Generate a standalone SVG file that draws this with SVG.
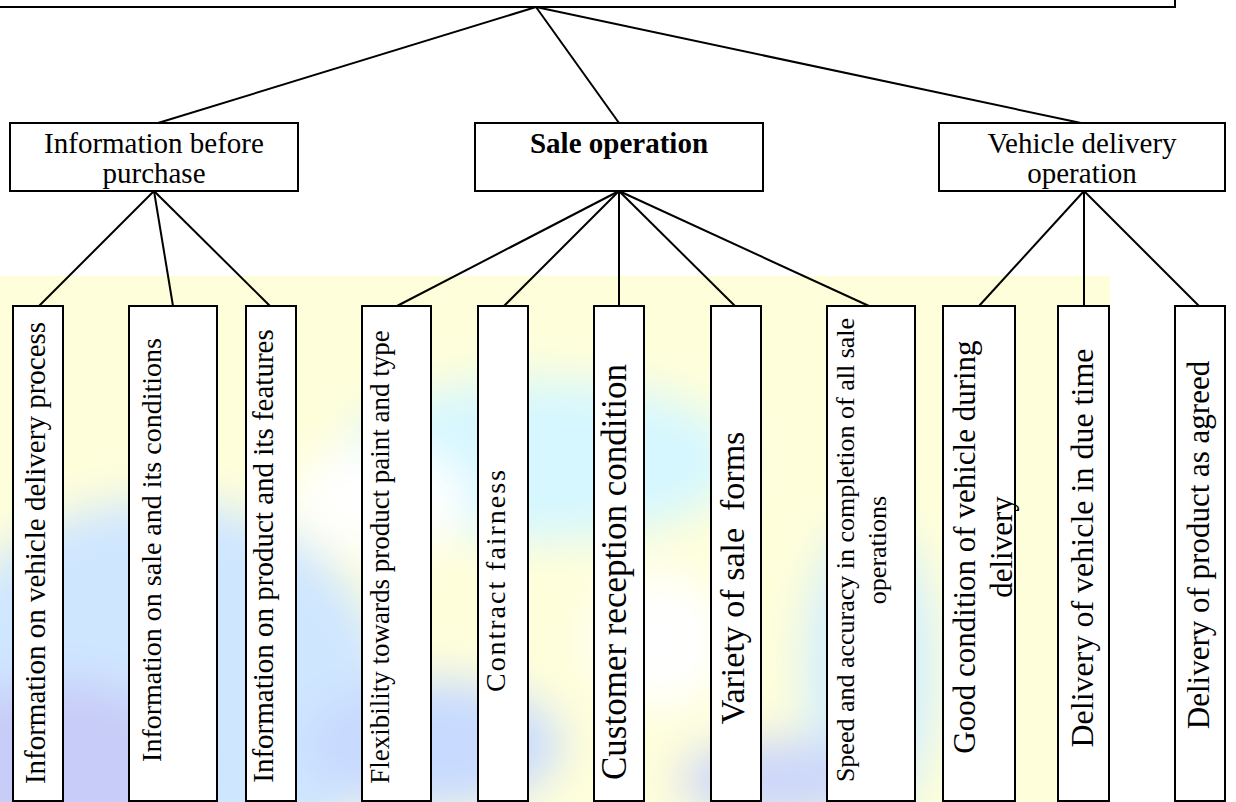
<svg xmlns="http://www.w3.org/2000/svg" width="1236" height="802" viewBox="0 0 1236 802">
<defs>
<style>
.box{fill:#fff;stroke:#000;stroke-width:2}
.ln{stroke:#000;stroke-width:2;fill:none}
.t2{font-family:"Liberation Serif","Times New Roman",serif;font-size:29px;text-anchor:middle;fill:#000}
.lf{font-family:"Liberation Serif","Times New Roman",serif;text-anchor:middle;fill:#000}
</style>
<filter id="blur" x="-20%" y="-20%" width="140%" height="140%"><feGaussianBlur stdDeviation="22"/></filter>
<clipPath id="bgclip"><rect x="0" y="276" width="1110" height="526"/></clipPath>
</defs>
<rect width="1236" height="802" fill="#fff"/>
<g id="background" clip-path="url(#bgclip)">
<rect x="0" y="276" width="1110" height="526" fill="#FEFEDA"/>
<g filter="url(#blur)">
<ellipse cx="160" cy="700" rx="230" ry="200" fill="#CFE6FF"/>
<ellipse cx="60" cy="770" rx="130" ry="90" fill="#C8CCF8"/>
<ellipse cx="540" cy="460" rx="200" ry="80" fill="#D6F7FF"/>
<ellipse cx="380" cy="500" rx="90" ry="55" fill="#FFFFFF"/>
<ellipse cx="430" cy="745" rx="130" ry="65" fill="#C8DAFF"/>
<ellipse cx="660" cy="640" rx="70" ry="70" fill="#FFFFFF"/>
<ellipse cx="870" cy="670" rx="65" ry="150" fill="#D2EEFF"/>
<ellipse cx="780" cy="780" rx="100" ry="40" fill="#CCD6FA"/>
</g>
</g>
<g id="connectors">
<line class="ln" x1="536" y1="7" x2="158" y2="123"/>
<line class="ln" x1="536" y1="7" x2="619" y2="123" stroke-width="1.5"/>
<line class="ln" x1="536" y1="7" x2="1081" y2="123"/>
<line class="ln" x1="154" y1="191" x2="39" y2="306"/>
<line class="ln" x1="154" y1="191" x2="173" y2="306"/>
<line class="ln" x1="154" y1="191" x2="270" y2="306"/>
<line class="ln" x1="619" y1="191" x2="397" y2="306"/>
<line class="ln" x1="619" y1="191" x2="504" y2="306"/>
<line class="ln" x1="619" y1="191" x2="619" y2="306"/>
<line class="ln" x1="619" y1="191" x2="735" y2="306"/>
<line class="ln" x1="619" y1="191" x2="869" y2="306"/>
<line class="ln" x1="1084" y1="191" x2="979" y2="306"/>
<line class="ln" x1="1084" y1="191" x2="1084" y2="306"/>
<line class="ln" x1="1084" y1="191" x2="1199" y2="306"/>
</g>
<g id="root"><rect class="box" x="-10" y="-10" width="1185" height="17"/></g>
<g id="info-before-purchase"><rect class="box" x="10" y="123" width="288" height="68"/>
<text class="t2" x="154" y="153">Information before</text><text class="t2" x="154" y="183">purchase</text></g>
<g id="sale-operation"><rect class="box" x="475" y="123" width="288" height="68"/>
<text class="t2" x="619" y="153" font-weight="bold">Sale operation</text></g>
<g id="vehicle-delivery-operation"><rect class="box" x="939" y="123" width="286" height="68"/>
<text class="t2" x="1082" y="153">Vehicle delivery</text><text class="t2" x="1082" y="183">operation</text></g>

<g id="leaf1"><rect class="box" x="13" y="306" width="50" height="495"/>
<text class="lf" font-size="29" transform="translate(45,553) rotate(-90)">Information on vehicle delivery process</text></g>
<g id="leaf2"><rect class="box" x="129" y="306" width="88" height="495"/>
<text class="lf" font-size="28" transform="translate(161,550) rotate(-90)">Information on sale and its conditions</text></g>
<g id="leaf3"><rect class="box" x="246" y="306" width="50" height="495"/>
<text class="lf" font-size="29" transform="translate(273,556) rotate(-90)">Information on product and its features</text></g>
<g id="leaf4"><rect class="box" x="362" y="306" width="69" height="495"/>
<text class="lf" font-size="27" transform="translate(389,557) rotate(-90)">Flexibility towards product paint and type</text></g>
<g id="leaf5"><rect class="box" x="478" y="306" width="50" height="495"/>
<text class="lf" font-size="28" transform="translate(505,581) rotate(-90)" textLength="222" lengthAdjust="spacing">Contract fairness</text></g>
<g id="leaf6"><rect class="box" x="594" y="306" width="50" height="495"/>
<text class="lf" font-size="35" transform="translate(626,572) rotate(-90)">Customer reception condition</text></g>
<g id="leaf7"><rect class="box" x="711" y="306" width="50" height="495"/>
<text class="lf" font-size="34" transform="translate(744,578) rotate(-90)" xml:space="preserve">Variety of sale  forms</text></g>
<g id="leaf8"><rect class="box" x="827" y="306" width="88" height="495"/>
<text class="lf" font-size="26" transform="translate(854,550) rotate(-90)"><tspan x="0" y="0">Speed and accuracy in completion of all sale</tspan><tspan x="0" y="32">operations</tspan></text></g>
<g id="leaf9"><rect class="box" x="943" y="306" width="72" height="495"/>
<text class="lf" font-size="31" transform="translate(975,547) rotate(-90)"><tspan x="0" y="0">Good condition of vehicle during</tspan><tspan x="0" y="37">delivery</tspan></text></g>
<g id="leaf10"><rect class="box" x="1058" y="306" width="51" height="495"/>
<text class="lf" font-size="32" transform="translate(1093,548) rotate(-90)">Delivery of vehicle in due time</text></g>
<g id="leaf11"><rect class="box" x="1175" y="306" width="50" height="495"/>
<text class="lf" font-size="31" transform="translate(1209,545) rotate(-90)">Delivery of product as agreed</text></g>
</svg>
